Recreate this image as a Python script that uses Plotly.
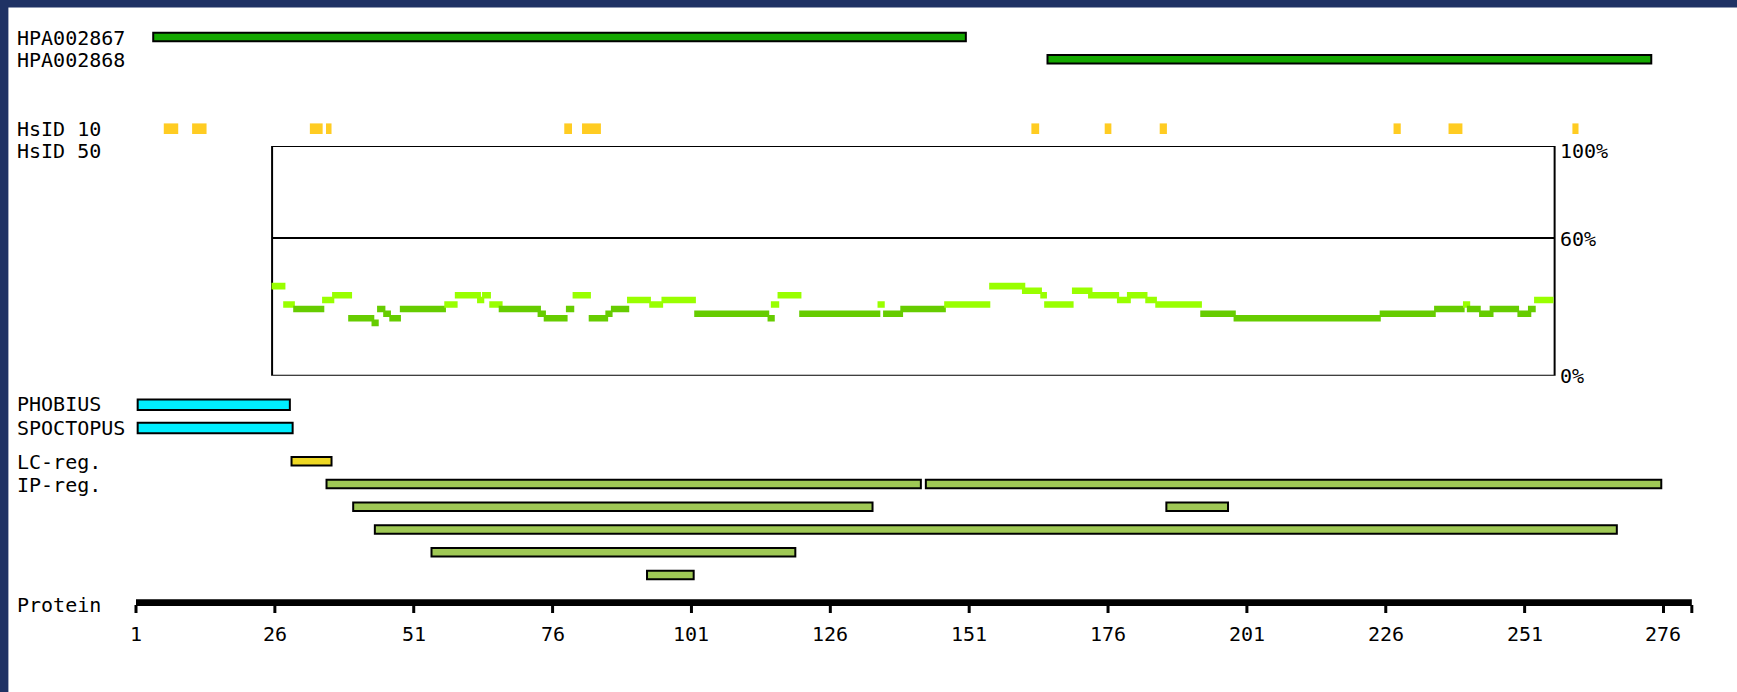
import plotly.graph_objects as go

W, H = 1737, 692

# ---------------- data (residue coordinates / percent) ----------------
PROTEIN_LEN = 281.1
AXIS_TICKS = [1, 26, 51, 76, 101, 126, 151, 176, 201, 226, 251, 276]

ANTIBODIES = ["HPA002867", "HPA002868"]
AB_START = [4.1, 165.1]
AB_END = [150.4, 273.8]

HS10_START = [6.0, 11.1, 32.3, 35.2, 78.1, 81.3, 162.2, 175.4, 185.3, 227.4, 237.3, 259.6]
HS10_END = [8.6, 13.7, 34.6, 36.2, 79.5, 84.7, 163.6, 176.6, 186.6, 228.7, 239.8, 260.7]

ID_WINDOW = [25.5, 256.4]
ID_LABELS = [100, 60, 0]
ID_START = [25.4, 27.5, 29.3, 34.5, 36.3, 39.2, 43.4, 44.4, 45.5, 46.6, 48.5, 56.5, 58.4, 62.4, 63.3,
            64.6, 66.3, 73.3, 74.4, 78.4, 79.6, 82.5, 85.5, 86.5, 89.4, 93.4, 95.6, 101.5, 114.7, 115.3,
            116.5, 120.4, 134.5, 135.5, 138.6, 146.5, 154.6, 160.5, 163.8, 164.5, 169.5, 172.4, 177.6,
            179.4, 182.7, 184.5, 192.6, 198.6, 224.9, 234.7, 239.9, 240.6, 242.8, 244.7, 249.7, 251.6, 252.7]
ID_END = [27.9, 29.6, 34.9, 36.7, 39.9, 43.9, 44.7, 45.9, 46.9, 48.7, 56.8, 58.9, 63.1, 63.7, 64.9,
          67.0, 73.9, 74.8, 78.7, 79.9, 82.9, 86.0, 86.8, 89.8, 93.7, 95.9, 101.8, 115.0, 116.0, 116.8,
          120.8, 135.0, 135.8, 139.1, 146.8, 154.8, 161.1, 164.1, 165.0, 169.8, 173.2, 178.0, 180.1,
          183.1, 184.8, 192.9, 199.0, 225.1, 235.0, 240.2, 241.2, 243.1, 245.4, 250.0, 252.2, 253.0, 256.2]
ID_VALUE = [39, 31, 29, 33, 35, 25, 23, 29, 27, 25, 29, 31, 35, 33, 35,
            31, 29, 27, 25, 29, 35, 25, 27, 29, 33, 31, 33, 27, 25, 31,
            35, 27, 31, 27, 29, 31, 39, 37, 35, 31, 37, 35, 33, 35, 33,
            31, 27, 25, 27, 29, 31, 29, 27, 29, 27, 29, 33]

TM_METHODS = ["PHOBIUS", "SPOCTOPUS"]
TM_START = [1.3, 1.3]
TM_END = [28.7, 29.2]

LC_START = [29.0]
LC_END = [36.2]

IP_START = [35.3, 143.2, 40.1, 186.5, 44.0, 54.2, 93.0]
IP_END = [142.3, 275.6, 133.6, 197.6, 267.6, 119.7, 101.4]
IP_ROW = [0, 0, 1, 1, 2, 3, 4]

# ---------------- layout / style ----------------
NAVY = "#1f3264"
FONT = dict(family="DejaVu Sans Mono", size=20, color="black")
AB_Y = [37.0, 59.2]
HS10_Y = 128.7
TM_Y = [404.7, 428.0]
LC_Y = 461.3
IP_Y0, IP_DY = 484.0, 22.75
AXIS_Y0, AXIS_Y1, TICK_Y1 = 599.3, 606.0, 613.0
TICKLABEL_Y = 633.5
PCT_LABEL_SHIFT = {100: -5, 60: -1, 0: 0}

ROW_LABELS = [("HPA002867", 37.5), ("HPA002868", 60.0), ("HsID 10", 129.0), ("HsID 50", 151.0),
              ("PHOBIUS", 403.5), ("SPOCTOPUS", 428.0), ("LC-reg.", 462.0), ("IP-reg.", 485.0),
              ("Protein", 605.0)]

x_per_px = 5.5545
x0_px = 130.45
xr = [-x0_px / x_per_px, (W - x0_px) / x_per_px]

shapes = []
annotations = []


def bar(x0, x1, yc, half, fill, lw=2):
    shapes.append(dict(type="rect", xref="x", yref="y", x0=x0, x1=x1, y0=yc - half, y1=yc + half,
                       fillcolor=fill, line=dict(color="black", width=lw), layer="above"))


# navy frame (top and left)
shapes.append(dict(type="rect", xref="paper", yref="paper", x0=0, x1=1, y0=1 - 7.5 / H, y1=1,
                   fillcolor=NAVY, line=dict(width=0)))
shapes.append(dict(type="rect", xref="paper", yref="paper", x0=0, x1=8.4 / W, y0=0, y1=1,
                   fillcolor=NAVY, line=dict(width=0)))

# antibodies
for s, e, y in zip(AB_START, AB_END, AB_Y):
    bar(s, e, y, 4.3, "#14a800")

# HsID 10
for s, e in zip(HS10_START, HS10_END):
    shapes.append(dict(type="rect", xref="x", yref="y", x0=s, x1=e, y0=HS10_Y - 5.3, y1=HS10_Y + 5.3,
                       fillcolor="#ffcc22", line=dict(width=0)))

# identity plot box
shapes.append(dict(type="rect", xref="x", yref="y2", x0=ID_WINDOW[0], x1=ID_WINDOW[1], y0=0, y1=100,
                   fillcolor="rgba(0,0,0,0)", line=dict(color="black", width=2)))
shapes.append(dict(type="line", xref="x", yref="y2", x0=ID_WINDOW[0], x1=ID_WINDOW[1], y0=60, y1=60,
                   line=dict(color="black", width=2)))
for s, e, v in zip(ID_START, ID_END, ID_VALUE):
    col = "#99ff00" if v > 30 else "#66cc00"
    shapes.append(dict(type="rect", xref="x", yref="y2", x0=s, x1=e, y0=v - 1.42, y1=v + 1.42,
                       fillcolor=col, line=dict(width=0)))
for v in ID_LABELS:
    annotations.append(dict(x=ID_WINDOW[1], y=v, xref="x", yref="y2", text=f"{v}%", showarrow=False,
                            xanchor="left", yanchor="middle", xshift=3, yshift=PCT_LABEL_SHIFT[v],
                            font=FONT))

# transmembrane predictions
for s, e, y in zip(TM_START, TM_END, TM_Y):
    bar(s, e, y, 5.3, "#00eeff")

# low complexity
for s, e in zip(LC_START, LC_END):
    bar(s, e, LC_Y, 4.3, "#eed824")

# interpro regions
for s, e, r in zip(IP_START, IP_END, IP_ROW):
    bar(s, e, IP_Y0 + r * IP_DY, 4.3, "#9fc855")

# protein axis
shapes.append(dict(type="rect", xref="x", yref="y", x0=1, x1=PROTEIN_LEN, y0=AXIS_Y0, y1=AXIS_Y1,
                   fillcolor="black", line=dict(width=0)))
for t in AXIS_TICKS + [PROTEIN_LEN]:
    shapes.append(dict(type="line", xref="x", yref="y", x0=t, x1=t, y0=AXIS_Y1 - 1, y1=TICK_Y1,
                       line=dict(color="black", width=3)))
for t in AXIS_TICKS:
    annotations.append(dict(x=t, y=TICKLABEL_Y, xref="x", yref="y", text=str(t), showarrow=False,
                            xanchor="center", yanchor="middle", font=FONT))

# row labels
for txt, y in ROW_LABELS:
    annotations.append(dict(x=15.3 / W, y=y, xref="paper", yref="y", text=txt, showarrow=False,
                            xanchor="left", yanchor="middle", font=FONT))

fig = go.Figure()
fig.update_layout(
    width=W, height=H,
    margin=dict(l=0, r=0, t=0, b=0),
    paper_bgcolor="white", plot_bgcolor="white",
    showlegend=False,
    xaxis=dict(range=xr, domain=[0, 1], visible=False, fixedrange=True),
    yaxis=dict(range=[H, 0], domain=[0, 1], visible=False, fixedrange=True),
    yaxis2=dict(range=[0, 100], domain=[1 - 375.7 / H, 1 - 146.0 / H], anchor="x", visible=False,
                fixedrange=True),
    shapes=shapes,
    annotations=annotations,
)
fig.write_html(
    "out.html",
    config={"displayModeBar": False},
    post_script="document.body.style.margin='0px';document.body.style.overflow='hidden';",
)
